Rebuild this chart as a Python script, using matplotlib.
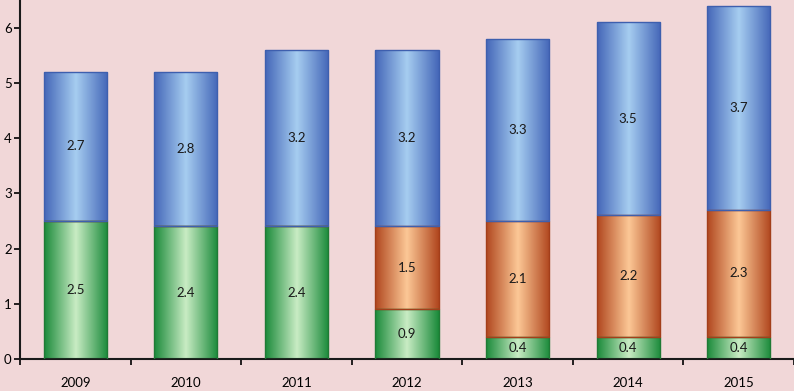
import matplotlib.pyplot as plt
import numpy as np
from matplotlib.colors import LinearSegmentedColormap

years = ['2009', '2010', '2011', '2012', '2013', '2014', '2015']
green = [2.5, 2.4, 2.4, 0.9, 0.4, 0.4, 0.4]
orange = [0, 0, 0, 1.5, 2.1, 2.2, 2.3]
blue = [2.7, 2.8, 3.2, 3.2, 3.3, 3.5, 3.7]

bg = '#f1d7d8'
styles = [
    (green, ['#1a8a3a', '#c9ecc4', '#1a8a3a'], '#1f7a35'),
    (orange, ['#b0461e', '#fcc896', '#b0461e'], '#a33e1a'),
    (blue, ['#4466b8', '#a6cdf0', '#4466b8'], '#3e5fae'),
]

fig = plt.figure(figsize=(7.94, 3.91), dpi=100)
fig.patch.set_facecolor(bg)
ax = fig.add_axes([20 / 794, 32 / 391, 774 / 794, 359 / 391])
ax.set_facecolor(bg)

x = np.arange(len(years))
width = 0.57
grad = np.linspace(0, 1, 256).reshape(1, -1)
bottom = np.zeros(len(years))
for vals, cols, edge in styles:
    cmap = LinearSegmentedColormap.from_list('g', cols)
    bars = ax.bar(x, vals, width, bottom=bottom, facecolor='none',
                  edgecolor=edge, linewidth=1.0, zorder=3)
    for b, v, b0 in zip(bars, vals, bottom):
        if v <= 0:
            continue
        x0 = b.get_x()
        im = ax.imshow(grad, cmap=cmap, aspect='auto', zorder=2,
                       extent=[x0, x0 + width, b0, b0 + v])
        im.set_clip_path(b)
        ax.text(b.get_x() + width / 2, b0 + v / 2, f'{v:.1f}',
                ha='center', va='center', fontsize=9.5, color='#1a1a1a',
                family='Lato', zorder=4)
    bottom = bottom + np.array(vals)

ax.set_xlim(-0.5, len(years) - 0.5)
ax.set_ylim(0, 6.5)
ax.set_yticks(range(7))
ax.set_xticks(x)
ax.set_xticklabels(years, family='Lato', fontsize=9.5)
ax.set_xticks(np.arange(-0.5, len(years)), minor=True)
ax.tick_params(axis='x', which='major', length=0, pad=13)
ax.tick_params(axis='x', which='minor', length=4, width=1.2, direction='out')
ax.tick_params(axis='y', length=4, width=1.2, direction='out', labelsize=9.5, pad=2)
for lab in ax.get_yticklabels():
    lab.set_family('Lato')
for s in ['top', 'right']:
    ax.spines[s].set_visible(False)
for s in ['left', 'bottom']:
    ax.spines[s].set_linewidth(1.5)
    ax.spines[s].set_color('#1a1a1a')

fig.savefig('out.png', dpi=100, facecolor=bg)
